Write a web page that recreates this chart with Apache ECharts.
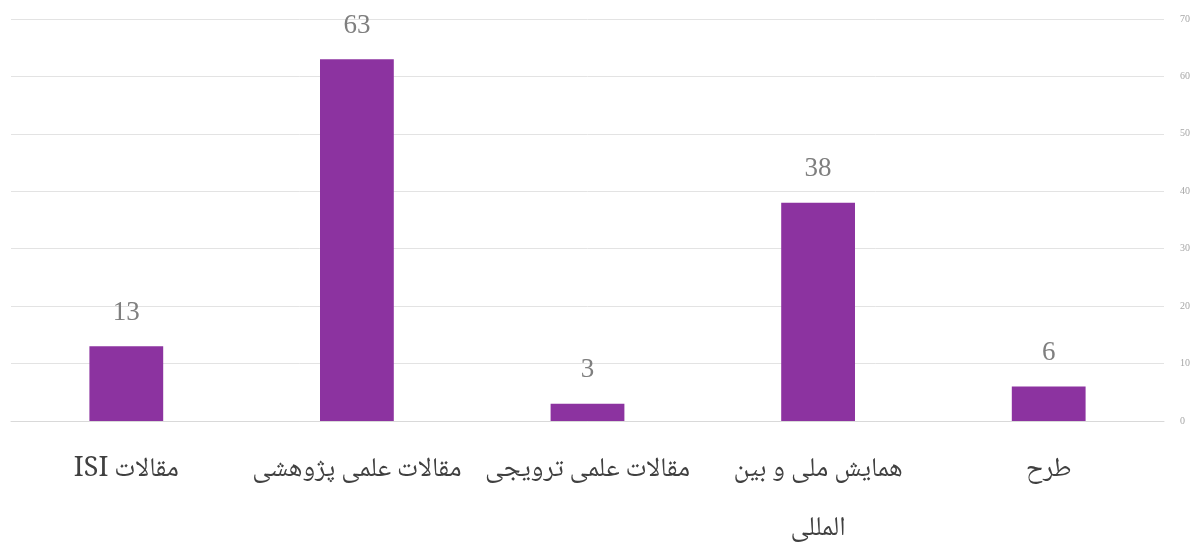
<!DOCTYPE html>
<html>
<head>
<meta charset="utf-8">
<script src="https://cdn.jsdelivr.net/npm/echarts@6/dist/echarts.min.js"></script>
<style>
  html, body { margin: 0; padding: 0; background: #ffffff; }
  #chart { width: 1194px; height: 543px; }
</style>
</head>
<body>
<div id="chart"></div>
<script>
// Publication counts by type
const categories = ['مقالات ISI', 'مقالات علمی پژوهشی', 'مقالات علمی ترویجی', 'همایش ملی و بین\nالمللی', 'طرح'];
const counts = [13, 63, 3, 38, 6];
const yTicks = { min: 0, max: 70, interval: 10 };

// Wrap each line in a right-to-left embedding so mixed Persian/Latin text reads correctly
const rtl = s => s.split('\n').map(line => '\u202B' + line + '\u202C').join('\n');

const chart = echarts.init(document.getElementById('chart'));
chart.setOption({
  animation: false,
  backgroundColor: '#ffffff',
  grid: {
    left: 11, right: 30, top: 19, bottom: 122,
    containLabel: false,
    outerBoundsMode: 'none'
  },
  xAxis: {
    type: 'category',
    data: categories,
    axisLine: { show: true, lineStyle: { color: '#d9d9d9', width: 1 } },
    axisTick: { show: false },
    axisLabel: {
      interval: 0,
      formatter: rtl,
      color: '#404040',
      fontSize: 27,
      fontFamily: '"Noto Naskh Arabic", "Liberation Serif", "DejaVu Sans", serif',
      lineHeight: 59,
      margin: 22,
      verticalAlign: 'top'
    }
  },
  yAxis: {
    type: 'value',
    position: 'right',
    min: yTicks.min,
    max: yTicks.max,
    interval: yTicks.interval,
    axisLine: { show: false },
    axisTick: { show: false },
    splitLine: { lineStyle: { color: '#e3e3e3', width: 1 } },
    axisLabel: {
      color: '#a6a6a6',
      fontSize: 10,
      fontFamily: '"Liberation Serif", serif',
      margin: 16
    }
  },
  series: [{
    type: 'bar',
    data: counts,
    barWidth: '32%',
    itemStyle: { color: '#8c33a0' },
    label: {
      show: true,
      position: 'top',
      distance: 20,
      color: '#7f7f7f',
      fontSize: 27,
      fontFamily: '"Liberation Serif", serif'
    }
  }]
});
</script>
</body>
</html>
